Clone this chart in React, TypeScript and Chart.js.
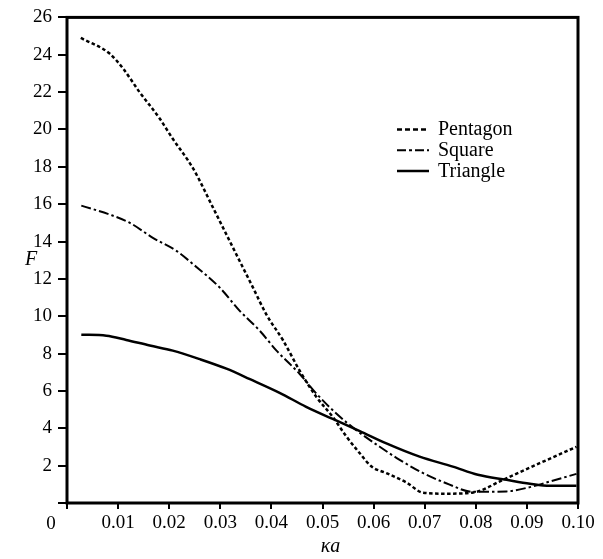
import { useEffect, useRef } from "react";
import { Chart, registerables } from "chart.js";

Chart.register(...registerables);

// κa values and force coefficient F for each cross-section
const kaPentagon = [0.0027, 0.0084, 0.011, 0.0142, 0.0181, 0.0207, 0.0247, 0.0286, 0.0325, 0.0364, 0.039, 0.0423, 0.0455, 0.0488, 0.052, 0.0547, 0.0573, 0.0596, 0.0625, 0.0664, 0.0697, 0.0742, 0.0795, 0.0853, 0.0925, 0.0997];
const fPentagon = [24.9, 24.05, 23.25, 22.0, 20.6, 19.5, 17.9, 15.8, 13.66, 11.53, 10.1, 8.7, 7.1, 5.68, 4.61, 3.55, 2.66, 1.95, 1.6, 1.1, 0.55, 0.5, 0.56, 1.24, 2.13, 3.01];

const kaSquare = [0.0028, 0.0084, 0.0123, 0.0168, 0.0214, 0.0247, 0.0299, 0.0338, 0.0377, 0.041, 0.0455, 0.0488, 0.0527, 0.0566, 0.0612, 0.0651, 0.0697, 0.0742, 0.0795, 0.086, 0.0906, 0.0945, 0.0997];
const fSquare = [15.92, 15.44, 15.0, 14.2, 13.5, 12.78, 11.53, 10.29, 9.23, 8.16, 6.92, 5.86, 4.79, 3.9, 3.01, 2.31, 1.6, 1.06, 0.6, 0.62, 0.85, 1.15, 1.56];

const kaTriangle = [0.0028, 0.0077, 0.0116, 0.0162, 0.0207, 0.026, 0.0312, 0.0358, 0.0416, 0.0468, 0.052, 0.0573, 0.0625, 0.069, 0.0755, 0.0804, 0.086, 0.0906, 0.0945, 0.0997];
const fTriangle = [9.01, 8.96, 8.73, 8.43, 8.16, 7.7, 7.19, 6.63, 5.9, 5.15, 4.5, 3.85, 3.19, 2.48, 1.95, 1.51, 1.24, 1.03, 0.92, 0.92];

const seriesNames = ["Pentagon", "Square", "Triangle"];

const xMin = 0;
const xMax = 0.1;
const xStep = 0.01;
const yMin = 0;
const yMax = 26;
const yStep = 2;

const SERIF = '"Liberation Serif", "Times New Roman", serif';

const toPoints = (xs: number[], ys: number[]) => xs.map((x, i) => ({ x, y: ys[i] }));

// Frame, origin label, axis titles and legend drawn over the plot
const decorPlugin = {
  id: "decor",
  afterDraw(chart: any) {
    const { ctx, chartArea: a, scales } = chart;
    ctx.save();
    ctx.strokeStyle = "#000";
    ctx.fillStyle = "#000";
    ctx.lineWidth = 3;
    ctx.setLineDash([]);
    ctx.strokeRect(a.left, a.top, a.right - a.left, a.bottom - a.top);

    ctx.font = `19px ${SERIF}`;
    ctx.textAlign = "center";
    ctx.textBaseline = "middle";
    ctx.fillText("0", scales.x.getPixelForValue(0) - 16, a.bottom + 21);

    ctx.font = `italic 20px ${SERIF}`;
    ctx.fillText("F", a.left - 36, (a.top + a.bottom) / 2);
    ctx.fillText("κa", (a.left + a.right) / 2 + 8, a.bottom + 44);

    // legend
    const x0 = a.left + 330;
    ctx.font = `20px ${SERIF}`;
    ctx.textAlign = "left";
    ctx.textBaseline = "alphabetic";
    chart.data.datasets.forEach((ds: any, i: number) => {
      const base = a.top + 118 + 20.8 * i;
      const ly = base - 6;
      ctx.lineWidth = ds.borderWidth;
      ctx.setLineDash(ds.legendDash || ds.borderDash || []);
      ctx.beginPath();
      ctx.moveTo(x0, ly);
      ctx.lineTo(x0 + 32, ly);
      ctx.stroke();
      ctx.setLineDash([]);
      ctx.fillText(ds.label, x0 + 41, base);
    });
    ctx.restore();
  },
};

export default function App() {
  const canvasRef = useRef<HTMLCanvasElement | null>(null);

  useEffect(() => {
    if (!canvasRef.current) return;
    const chart = new Chart(canvasRef.current, {
      type: "line",
      data: {
        datasets: [
          {
            label: seriesNames[0],
            data: toPoints(kaPentagon, fPentagon),
            borderColor: "#000",
            borderWidth: 2.5,
            borderDash: [3.5, 2.5],
            legendDash: [5, 3],
            pointRadius: 0,
            cubicInterpolationMode: "monotone",
            fill: false,
          } as any,
          {
            label: seriesNames[1],
            data: toPoints(kaSquare, fSquare),
            borderColor: "#000",
            borderWidth: 2,
            borderDash: [10, 3, 2.5, 3],
            legendDash: [9, 3, 3, 3],
            pointRadius: 0,
            cubicInterpolationMode: "monotone",
            fill: false,
          } as any,
          {
            label: seriesNames[2],
            data: toPoints(kaTriangle, fTriangle),
            borderColor: "#000",
            borderWidth: 2.5,
            pointRadius: 0,
            cubicInterpolationMode: "monotone",
            fill: false,
          } as any,
        ],
      },
      options: {
        animation: false,
        responsive: true,
        maintainAspectRatio: false,
        layout: { padding: { top: 15, right: 25, left: 0, bottom: 0 } },
        plugins: {
          legend: { display: false },
          tooltip: { enabled: false },
        },
        scales: {
          x: {
            type: "linear",
            min: xMin,
            max: xMax,
            afterFit: (scale: any) => {
              scale.height = 56;
            },
            afterBuildTicks: (scale: any) => {
              const ticks = [];
              for (let i = 0; i <= Math.round((xMax - xMin) / xStep); i++) {
                ticks.push({ value: +(xMin + i * xStep).toFixed(2) });
              }
              scale.ticks = ticks;
            },
            ticks: {
              color: "#000",
              font: { family: SERIF, size: 19 },
              padding: 3,
              maxRotation: 0,
              autoSkip: false,
              callback: (v: any) => (Number(v) === 0 ? "" : Number(v).toFixed(2)),
            },
            grid: {
              drawOnChartArea: false,
              drawTicks: true,
              tickLength: 6,
              color: "#000",
              lineWidth: 2,
            },
            border: { display: false },
          },
          y: {
            type: "linear",
            min: yMin,
            max: yMax,
            afterFit: (scale: any) => {
              scale.width = 67;
            },
            ticks: {
              stepSize: yStep,
              color: "#000",
              font: { family: SERIF, size: 19 },
              padding: 6,
              autoSkip: false,
              callback: (v: any) => (Number(v) === 0 ? "" : String(v)),
            },
            grid: {
              drawOnChartArea: false,
              drawTicks: true,
              tickLength: 9,
              color: "#000",
              lineWidth: 2,
            },
            border: { display: false },
          },
        },
      } as any,
      plugins: [decorPlugin],
    });
    return () => chart.destroy();
  }, []);

  return (
    <div style={{ position: "absolute", left: 0, top: 0, width: 603, height: 559, background: "#fff" }}>
      <canvas ref={canvasRef} style={{ display: "block" }} />
    </div>
  );
}
